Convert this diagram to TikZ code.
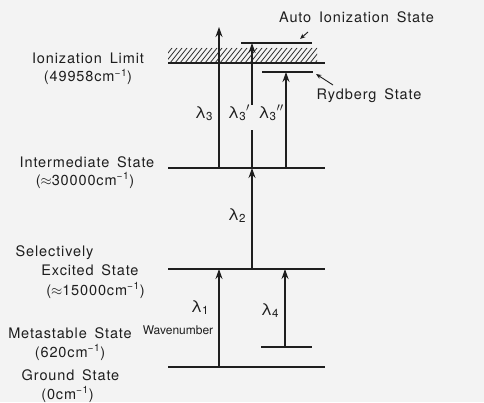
\documentclass[tikz,border=0pt]{standalone}
\usepackage{fontspec}
\setmainfont{TeX Gyre Heros}[LetterSpace=6,WordSpace=1.6]
\usetikzlibrary{arrows.meta}
\definecolor{ink}{HTML}{1E1E1E}
\definecolor{paper}{HTML}{F3F3F3}
\begin{document}
\begin{tikzpicture}[x=1pt,y=-1pt,
			lvl/.style={draw=ink,line width=1.2pt},
			arr/.style={-{Stealth[length=10pt,width=7pt,inset=3.5pt]},line width=1.1pt,ink},
			ptr/.style={-{Stealth[length=5.5pt,width=4.5pt]},line width=0.9pt,ink},
			hatch/.style={draw=ink,line width=0.75pt},
			lab/.style={text=ink,inner sep=0pt,anchor=base,font=\fontsize{14.5}{17}\selectfont},
			lam/.style={text=ink,inner sep=0pt,anchor=base,font=\fontsize{16.5}{19}\selectfont\addfontfeature{LetterSpace=0}},
			tiny/.style={text=ink,inner sep=0pt,anchor=base,font=\fontsize{12}{14}\selectfont\addfontfeature{LetterSpace=0}}
			]
			\fill[paper] (0,0) rectangle (484,402);
			% levels
			\begin{scope}
				\clip (168,48) rectangle (317,63);
				\foreach \x in {150,155,...,330} \draw[hatch] (\x,63) -- ++(12,-15);
			\end{scope}
			\draw[lvl] (168,63) -- (325,63);
			\draw[lvl] (241,43) -- (312,43);
			\draw[lvl] (262,72) -- (313,72);
			\draw[lvl] (168,168) -- (325,168);
			\draw[lvl] (168,269) -- (325,269);
			\draw[lvl] (261,347) -- (312,347);
			\draw[lvl] (168,367) -- (325,367);
			% state labels
			\node[lab] (ion) at (88,64) {Ionization Limit};
			\node[lab] (ionv) at (88,82) {(49958cm\textsuperscript{−1})};
			\node[lab] (inter) at (87,167) {Intermediate State};
			\node[lab] (interv) at (85,185) {($\approx$30000cm\textsuperscript{−1})};
			\node[lab] (sel) at (54.5,256) {Selectively};
			\node[lab] (exc) at (90,275) {Excited State};
			\node[lab] (excv) at (95.5,295) {($\approx$15000cm\textsuperscript{−1})};
			\node[lab] (meta) at (70,338) {Metastable State};
			\node[lab] (metav) at (70,357) {(620cm\textsuperscript{−1})};
			\node[lab] (gnd) at (70.5,380) {Ground State};
			\node[lab] (gndv) at (67.5,399) {(0cm\textsuperscript{−1})};
			\node[lab] (auto) at (356.5,23) {Auto Ionization State};
			\node[lab] (ryd) at (369,100) {Rydberg State};
			\node[tiny] (wn) at (178,334) {Wavenumber};
			% wavelengths
			\node[lam] (l1) at (200,312) {λ\textsubscript{1}};
			\node[lam] (l2) at (237,220) {λ\textsubscript{2}};
			\node[lam] (l3) at (204,118) {λ\textsubscript{3}};
			\node[lam] (l3a) at (239,118) {λ\textsubscript{3}$'$};
			\node[lam] (l3b) at (271,118) {λ\textsubscript{3}$''$};
			\node[lam] (l4) at (270,315) {λ\textsubscript{4}};
			% arrow ends
			\coordinate (g1) at (219,367);
			\coordinate (x1) at (219,269);
			\coordinate (x2) at (252,269);
			\coordinate (i1) at (219,168);
			\coordinate (i2) at (252,168);
			\coordinate (i3) at (286,168);
			\coordinate (top) at (219,27);
			\coordinate (b1) at (252,130);
			\coordinate (b2) at (252,105);
			\coordinate (a1) at (252,43);
			\coordinate (r1) at (286,72);
			\coordinate (m1) at (285,347);
			\coordinate (x3) at (285,269);
			\coordinate (autotail) at (308,32);
			\coordinate (autotip) at (300,39);
			\coordinate (rydtail) at (333,85);
			\coordinate (rydtip) at (316,74);
			\draw[arr] (g1) -- (x1);
			\draw[arr] (x2) -- (i2);
			\draw[arr] (i1) -- (top);
			\draw[line width=1.1pt,ink] (i2) -- (b1);
			\draw[arr] (b2) -- (a1);
			\draw[arr] (i3) -- (r1);
			\draw[arr] (m1) -- (x3);
			\draw[ptr] (autotail) -- (autotip);
			\draw[ptr] (rydtail) -- (rydtip);
		\end{tikzpicture}
\end{document}
